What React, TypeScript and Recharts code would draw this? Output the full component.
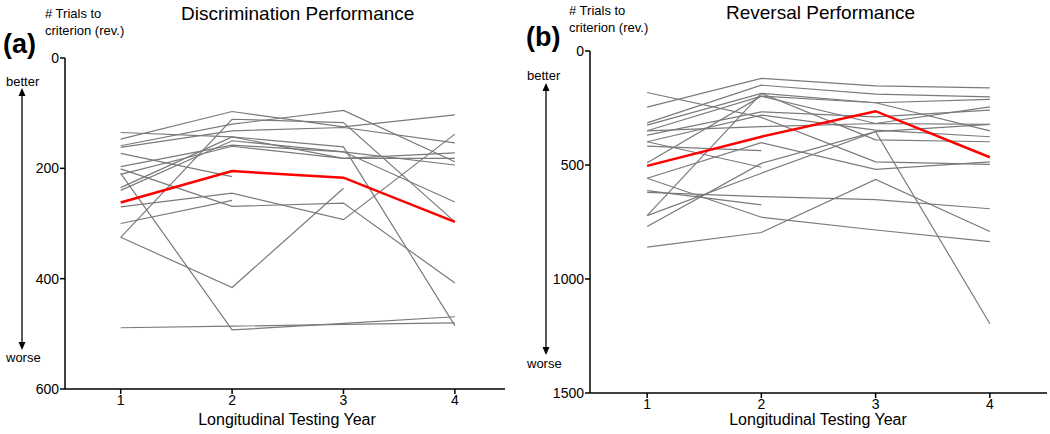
import { Line, LineChart, XAxis, YAxis } from 'recharts';

const years = [1, 2, 3, 4];

// one row per subject, value per testing year (null = no session)
const discrimSubjects: (number | null)[][] = [
  [147, 97, 125, 103],
  [135, 143, 182, 172],
  [325, 111, 117, 297],
  [159, 120, 95, 188],
  [162, 132, 126, 154],
  [173, 215, null, null],
  [197, 158, 170, 194],
  [209, 493, 481, 469],
  [235, 143, 161, 485],
  [240, 150, 170, 261],
  [201, 269, 263, 408],
  [270, 245, 293, 138],
  [300, 258, null, null],
  [325, 416, 236, null],
  [489, 486, 483, 480],
  [211, 160, 182, 182]
];
const discrimMean = [262, 205, 217, 297];

const reversalSubjects: (number | null)[][] = [
  [182, 291, 486, 497],
  [246, 120, 153, 162],
  [315, 150, 189, 201],
  [325, 186, 227, 212],
  [350, 198, 318, 245],
  [369, 267, 289, 259],
  [398, 281, 347, 376],
  [417, 437, null, null],
  [490, 198, 227, 350],
  [558, 402, 519, 486],
  [612, 675, null, null],
  [620, 639, 652, 692],
  [722, 186, 390, 398],
  [722, 536, 354, 1196],
  [770, 493, 354, 322],
  [860, 796, 563, 792],
  [558, 729, 785, 836],
  [350, 332, 318, 322],
  [398, 510, null, null]
];
const reversalMean = [504, 376, 264, 466];

const discrimTicks = [0, 200, 400, 600];
const reversalTicks = [0, 500, 1000, 1500];

const FONT = '"Liberation Sans", Arial, Helvetica, sans-serif';

function buildRows(subjects: (number | null)[][], mean: number[]) {
  return years.map((year, i) => {
    const row: Record<string, number | null> = { year, mean: mean[i] };
    subjects.forEach((s, j) => {
      row['s' + j] = s[i] ?? null;
    });
    return row;
  });
}

interface PanelProps {
  left: number;
  width: number;
  subjects: (number | null)[][];
  mean: number[];
  yTicks: number[];
  yWidth: number;
  xMax: number;
  margin: { top: number; right: number; bottom: number; left: number };
}

function Panel({ left, width, subjects, mean, yTicks, yWidth, xMax, margin }: PanelProps) {
  const rows = buildRows(subjects, mean);
  const axisStyle = { fontSize: 14, fill: '#000', fontFamily: FONT };
  return (
    <div style={{ position: 'absolute', left, top: 0 }}>
      <LineChart width={width} height={434} data={rows} margin={margin}>
        <XAxis
          dataKey="year"
          type="number"
          domain={[0.5, xMax]}
          ticks={years}
          height={30}
          tick={axisStyle}
          tickSize={5}
          tickMargin={1}
          axisLine={{ stroke: '#000', strokeWidth: 1.5 }}
          tickLine={{ stroke: '#000', strokeWidth: 1.5 }}
        />
        <YAxis
          reversed
          type="number"
          domain={[yTicks[0], yTicks[yTicks.length - 1]]}
          ticks={yTicks}
          width={yWidth}
          tick={axisStyle}
          tickSize={5}
          tickMargin={1}
          axisLine={{ stroke: '#000', strokeWidth: 1.5 }}
          tickLine={{ stroke: '#000', strokeWidth: 1.5 }}
        />
        {subjects.map((_, j) => (
          <Line
            key={j}
            dataKey={'s' + j}
            stroke="#7a7a7a"
            strokeWidth={1.2}
            dot={false}
            type="linear"
            isAnimationActive={false}
          />
        ))}
        <Line dataKey="mean" stroke="#ff0000" strokeWidth={2.5} dot={false} type="linear" isAnimationActive={false} />
      </LineChart>
    </div>
  );
}

function Arrow({ x, y1, y2 }: { x: number; y1: number; y2: number }) {
  return (
    <svg style={{ position: 'absolute', left: 0, top: 0 }} width={1050} height={434}>
      <line x1={x} y1={y1 + 6} x2={x} y2={y2 - 6} stroke="#000" strokeWidth={1.3} />
      <polygon points={`${x - 3.5},${y1 + 8} ${x + 3.5},${y1 + 8} ${x},${y1}`} fill="#000" />
      <polygon points={`${x - 3.5},${y2 - 8} ${x + 3.5},${y2 - 8} ${x},${y2}`} fill="#000" />
    </svg>
  );
}

const txt = (left: number, top: number, size: number, extra: React.CSSProperties = {}) =>
  ({ position: 'absolute', left, top, fontSize: size, lineHeight: 1.2, fontFamily: FONT, color: '#000', whiteSpace: 'nowrap', ...extra }) as React.CSSProperties;

export default function App() {
  return (
    <div style={{ position: 'absolute', left: 0, top: 0, width: 1050, height: 434, background: '#fff', fontFamily: FONT }}>
      <Panel
        left={0}
        width={520}
        subjects={discrimSubjects}
        mean={discrimMean}
        yTicks={discrimTicks}
        yWidth={40}
        xMax={4.45}
        margin={{ top: 58, right: 15, bottom: 15, left: 25 }}
      />
      <Panel
        left={525}
        width={525}
        subjects={reversalSubjects}
        mean={reversalMean}
        yTicks={reversalTicks}
        yWidth={45}
        xMax={4.5}
        margin={{ top: 51, right: 3, bottom: 11, left: 20 }}
      />

      <Arrow x={22} y1={88} y2={350} />
      <Arrow x={546} y1={83} y2={355} />

      <div style={txt(3, 28, 27, { fontWeight: 'bold' })}>(a)</div>
      <div style={txt(45, 6, 13)}># Trials to</div>
      <div style={txt(45, 23, 13)}>criterion (rev.)</div>
      <div style={txt(181, 3, 19)}>Discrimination Performance</div>
      <div style={txt(6, 74, 13)}>better</div>
      <div style={txt(6, 350, 13)}>worse</div>
      <div style={txt(287, 410, 16, { transform: 'translateX(-50%)' })}>Longitudinal Testing Year</div>

      <div style={txt(526, 21, 27, { fontWeight: 'bold' })}>(b)</div>
      <div style={txt(569, 3, 13)}># Trials to</div>
      <div style={txt(569, 20, 13)}>criterion (rev.)</div>
      <div style={txt(726, 2, 19)}>Reversal Performance</div>
      <div style={txt(527, 68, 13)}>better</div>
      <div style={txt(527, 356, 13)}>worse</div>
      <div style={txt(818, 410, 16, { transform: 'translateX(-50%)' })}>Longitudinal Testing Year</div>
    </div>
  );
}
